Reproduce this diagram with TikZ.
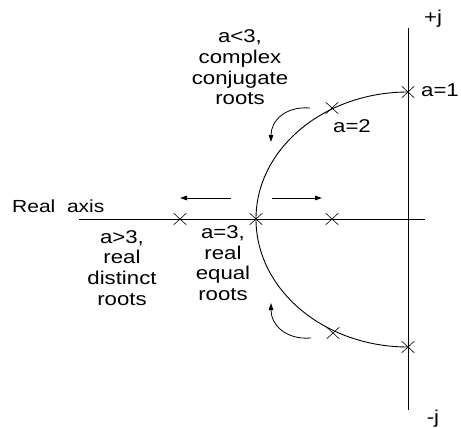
\documentclass[tikz,border=0pt]{standalone}
\usepackage{fontspec}
\setmainfont{Liberation Sans}[FakeStretch=1.2]
\usetikzlibrary{arrows.meta,shapes.misc}
\begin{document}
\begin{tikzpicture}[x=1pt,y=-1pt,
  axisline/.style={line width=0.9pt},
  locus/.style={line width=0.9pt},
  xmark/.style={draw,cross out,minimum width=12pt,minimum height=11pt,inner sep=0pt,line width=0.6pt},
  dirarrow/.style={line width=0.8pt,-{Triangle[length=7pt,width=4.5pt]}},
  lbl/.style={font=\fontsize{18.5}{20.7}\selectfont,inner sep=0pt,align=center}]
\useasboundingbox (0,0) rectangle (461,428);
% axes
\coordinate (vtop) at (408,28);
\coordinate (vbot) at (408,410);
\coordinate (hleft) at (79,219);
\coordinate (hright) at (425,219);
\draw[axisline] (vtop) -- (vbot);
\draw[axisline] (hleft) -- (hright);
% root marks
\node[xmark] (u1) at (408,92) {};
\node[xmark] (u2) at (332,108) {};
\node[xmark] (m3) at (256,219) {};
\node[xmark] (rl) at (180,219) {};
\node[xmark] (rr) at (332,219) {};
\node[xmark] (l2) at (333,333) {};
\node[xmark] (l1) at (408,347) {};
% locus
\draw[locus] (u1.center) .. controls (324,92) and (256,148.9) .. (m3.center);
\draw[locus] (l1.center) .. controls (324,347) and (256,289.6) .. (m3.center);
% curved arrows
\coordinate (ua0) at (310,108);
\coordinate (ua1) at (271,142);
\draw[dirarrow] (ua0) .. controls (285,106) and (271,121) .. (ua1);
\coordinate (la0) at (311,338);
\coordinate (la1) at (271,303);
\draw[dirarrow] (la0) .. controls (286,340) and (271,325) .. (la1);
% horizontal arrows
\coordinate (hl0) at (231,198);
\coordinate (hl1) at (180,198);
\coordinate (hr0) at (272,198);
\coordinate (hr1) at (322,198);
\draw[dirarrow] (hl0) -- (hl1);
\draw[dirarrow] (hr0) -- (hr1);
% labels
\node[lbl,anchor=base] (pj) at (433,23.5) {+j};
\node[lbl,anchor=base] (mj) at (433,423.8) {-j};
\node[lbl,anchor=base] (a1) at (440,96.8) {a=1};
\node[lbl,anchor=base] (a2) at (352,132.8) {a=2};
\node[lbl] (tcx) at (240,67.3) {a<3,\\complex\\conjugate\\roots};
\node[lbl] (tdist) at (122,267.7) {a>3,\\real\\distinct\\roots};
\node[lbl] (tequal) at (223,263.2) {a=3,\\real\\equal\\roots};
\node[lbl,font=\fontsize{17.5}{20}\selectfont,anchor=base west] (raxis) at (12,212.7) {Real~~axis};
\end{tikzpicture}
\end{document}
